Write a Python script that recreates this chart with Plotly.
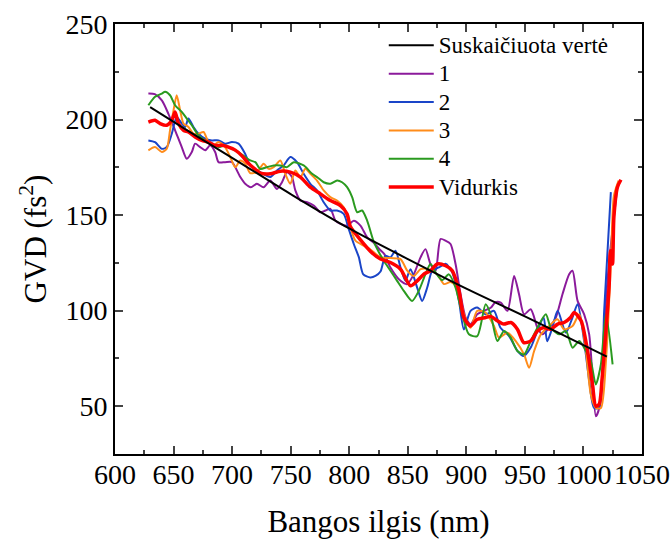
import plotly.graph_objects as go

# Calculated GVD (black line)
calc_x = [630, 660, 700, 750, 800, 850, 900, 950, 1000, 1020]
calc_y = [206.5, 195, 180, 161, 143, 127, 111.5, 97, 82, 76]

s1_x = [628.5, 634, 640, 645.6, 651.3, 657, 661.3, 665.6, 668.4, 672.7, 677, 681.3, 685.5, 688.4, 694, 699.8, 707, 711.2, 716, 721.2, 726.9, 732.6, 738.3, 742.6, 746.9, 751.1, 754, 758.3, 764, 769.7, 775.4, 779.7, 783.9, 788.2, 792.5, 798.2, 803.9, 809.6, 815.3, 821, 826, 830, 835.2, 843.8, 849.5, 855.2, 860.9, 865.1, 869.4, 873.7, 878, 882.3, 886.5, 890.8, 895.1, 899.4, 903.6, 909.3, 915, 920.8, 925, 929.4, 935.1, 940.8, 945, 949.3, 955, 960.7, 965, 970.7, 976.4, 982.1, 987.8, 990.7, 995, 1000.6, 1004.9, 1007.8, 1010.6, 1013.5, 1016.3, 1019.2, 1022, 1026, 1029]
s1_y = [213.6, 213.3, 210, 203, 194.4, 185.6, 179.5, 183, 187.4, 185.6, 183.9, 186.5, 183, 177.7, 177.7, 177.7, 169.9, 166.4, 164.6, 166.4, 164.6, 168.1, 163.7, 167.2, 172.5, 169.9, 162.9, 157.6, 156.7, 155, 151.5, 152.4, 153.3, 147.1, 145.4, 144.5, 147.1, 144.5, 138.4, 135.5, 132, 129.6, 122.6, 115.6, 113.9, 119.1, 127.9, 132.2, 124.4, 120.9, 137.5, 136.6, 134.9, 124.4, 108.6, 96.4, 92.9, 98.1, 99.9, 101.5, 104.5, 104.2, 99.9, 118.2, 108.6, 98.1, 100.7, 91.1, 87.6, 91.1, 96.4, 108.6, 119.1, 120.9, 105.1, 98.1, 87.6, 64.9, 44.7, 49.1, 68.4, 105.1, 126, 149, 165]

s2_x = [628.5, 634.2, 640, 644.2, 648.5, 652.7, 657, 659.9, 662.7, 667, 671.3, 677, 682.7, 688.4, 694, 699.8, 705.5, 711.2, 715.5, 724, 732.6, 738.3, 744, 749.7, 755.4, 761.1, 766.8, 772.5, 778.2, 783.9, 789.6, 795.3, 799.6, 803.9, 808.2, 812, 818, 822.4, 826.7, 830.9, 835.2, 839.5, 843.8, 848, 852.3, 858, 862.3, 866.6, 870.9, 876.6, 882.3, 888, 893.7, 897.9, 903.6, 909.3, 916.5, 923.6, 929, 936.4, 943.6, 949, 955, 960.7, 966, 969, 973.5, 978, 985, 990.6, 995, 1000.6, 1005, 1009, 1013.4, 1017.7, 1023.4]
s2_y = [189.1, 188.2, 184.7, 185.6, 192.6, 201.4, 197.9, 196.1, 200.5, 196.1, 192.6, 190, 189.1, 189.1, 187.4, 188.2, 187.4, 182, 176, 172.5, 169.9, 173.4, 176, 180.4, 177.7, 171.6, 166.4, 162.9, 156.7, 152.4, 152.4, 150.6, 142.7, 134.9, 128, 119, 117.4, 118.2, 120.5, 128.7, 127.9, 131.4, 122.6, 115.6, 121.7, 112.1, 105.1, 112.1, 120.9, 122.6, 124.5, 120, 105.1, 90.2, 99.9, 101.6, 98.1, 99.9, 91.2, 86.8, 79, 76.3, 80.7, 89.4, 96.4, 84, 91.2, 99.9, 88.5, 96.4, 103.4, 84, 63, 49.2, 49.2, 99.9, 162]

s3_x = [628.5, 634.2, 640, 644.2, 647, 650, 652.7, 655.6, 658.5, 662.7, 667, 671.3, 675.6, 679.8, 684.1, 688.4, 694, 698.4, 702.7, 707, 711.2, 715.5, 721.2, 726.9, 731.2, 735.5, 741.2, 745.4, 749.7, 754, 758.3, 762.5, 766.8, 772.5, 778.2, 783.9, 789.6, 795.3, 801, 805.3, 812.4, 818.1, 826.7, 835.2, 843.8, 849.5, 855.2, 860.9, 868, 875.2, 880.9, 886.5, 892.3, 898, 903.6, 909.3, 916.5, 923.6, 927.9, 935.1, 942.2, 949.3, 953.6, 957.9, 963.6, 970.7, 977.8, 983.5, 990.7, 996.4, 1002.1, 1006.3, 1010.6, 1014.9, 1019.2, 1023.5, 1026, 1030]
s3_y = [183.9, 185.6, 183, 184.7, 194.4, 204.9, 212.7, 204.9, 197.9, 196.1, 192.6, 192.6, 193.5, 188.2, 186.5, 188.2, 185.6, 180.4, 175, 178.6, 176.9, 172, 172.5, 176.9, 174.2, 175.1, 178.6, 171.6, 166.4, 173.4, 169.9, 174.2, 171.6, 168.1, 162.9, 159.4, 157.6, 154.1, 143.6, 136.6, 134, 132, 128, 127.5, 127, 121, 118.2, 121.7, 121.7, 119, 113.9, 115, 112.1, 98.1, 91, 99.9, 99, 92, 85.9, 88.5, 84.1, 77.1, 70.1, 78.9, 87.6, 92, 95.5, 90.2, 92, 98.1, 78.9, 56.1, 49.1, 49.1, 73.6, 126, 160, 168]

s4_x = [628.5, 634.2, 640, 642.8, 647, 651.3, 657, 661.3, 665.6, 671.3, 677, 682.7, 688.4, 694, 699.8, 705.5, 711.2, 715.5, 719.8, 724, 729.8, 735.5, 741.2, 746.9, 752.6, 761.1, 768.3, 772.5, 778.2, 783.9, 789.6, 793.9, 798.2, 802.5, 806.8, 811, 815.3, 821, 825, 829.5, 835.2, 840.9, 846.6, 853.7, 859.4, 865.1, 869.4, 873.7, 879.4, 885.1, 890.8, 896.5, 902.2, 909.3, 916.5, 920.8, 926.5, 932.2, 937.9, 943.6, 949.3, 955, 960.7, 967.9, 972.1, 979.3, 985, 990.7, 996.4, 1002.1, 1006.3, 1010.6, 1014.9, 1019.2, 1024.9]
s4_y = [207.5, 211.9, 213.6, 214.5, 212.7, 207.5, 204, 200.5, 197, 191.7, 189.1, 187.4, 185.6, 186.5, 184.7, 183, 180.4, 178.6, 177.7, 174.2, 175.1, 176, 176, 175.1, 177.7, 176, 171.6, 169.9, 167.2, 166.4, 168.1, 167.2, 164.6, 159.4, 151.5, 152.4, 147.1, 136, 131, 126.1, 120.9, 115.6, 110.4, 105.1, 110.4, 119.1, 124.4, 120, 116, 119, 112.1, 98.1, 87.6, 86.7, 103.4, 98.1, 84.1, 89.4, 85.9, 78.9, 77.1, 84.1, 91.1, 98.1, 91.1, 87.6, 89.4, 80.6, 84.1, 78.9, 73.6, 61.4, 71.9, 98.1, 71.9]

avg_x = [628.5, 634.2, 638.5, 644.2, 648.5, 651.3, 654.2, 658.5, 662.7, 668.4, 674.1, 679.8, 685.5, 691.2, 696.9, 702.7, 708.4, 714, 719.8, 724, 732.6, 741.2, 749.7, 758.3, 766.8, 775.4, 783.9, 792.5, 798.2, 801, 809.6, 818.2, 826.7, 835.2, 843.8, 852.3, 858, 863.7, 869.4, 875.2, 882.3, 888, 893.7, 897.9, 903.6, 909.3, 916.5, 921, 926.5, 932, 938, 943.6, 949, 955, 960.7, 966, 972, 978, 983.5, 989, 992, 998, 1003.5, 1007.7, 1010.6, 1013.4, 1016, 1019, 1022, 1023, 1024.8, 1026, 1029, 1032]
avg_y = [198.7, 199.6, 197.9, 197, 199.6, 204, 197.9, 194.4, 193.5, 190.9, 189.1, 188.2, 186.5, 186.5, 185.6, 184, 181, 177, 174, 172, 171.6, 173, 172.5, 169.9, 164.6, 161.1, 157.6, 155, 150.6, 144, 137, 131, 127, 125.2, 121.7, 113, 115.6, 119.1, 120.9, 124.4, 123.5, 120.9, 110.4, 96.4, 92, 95.5, 96.4, 97, 94.7, 93, 93.8, 90.3, 83.3, 84.2, 89.4, 91.2, 90.3, 93, 93.8, 96.4, 99, 94.7, 79, 61.4, 50, 51, 65, 87.7, 114, 131.4, 124.4, 149, 164.6, 168.5]

names = ["Suskaičiuota vertė", "1", "2", "3", "4", "Vidurkis"]
colors = ["#000000", "#8b1a9b", "#1a45c8", "#ff8c1a", "#2a9a1f", "#ff0000"]


def lg(name):
    return '<span style="font-size:23px">' + name + '</span>'


fig = go.Figure()
series = [(s1_x, s1_y), (s2_x, s2_y), (s3_x, s3_y), (s4_x, s4_y)]
for i, (xs, ys) in enumerate(series):
    fig.add_trace(go.Scatter(x=xs, y=ys, mode="lines", name=lg(names[i + 1]),
                             line=dict(color=colors[i + 1], width=2, shape="spline", smoothing=0.7),
                             legendrank=i + 2))
fig.add_trace(go.Scatter(x=avg_x, y=avg_y, mode="lines", name=lg(names[5]),
                         line=dict(color=colors[5], width=3.5, shape="spline", smoothing=0.7),
                         legendrank=6))
fig.add_trace(go.Scatter(x=calc_x, y=calc_y, mode="lines", name=lg(names[0]),
                         line=dict(color=colors[0], width=2, shape="spline"),
                         legendrank=1))

font_family = "Liberation Serif, Times New Roman, DejaVu Serif, serif"
fig.update_layout(
    width=670, height=543,
    margin=dict(l=115, r=28, t=24, b=89),
    paper_bgcolor="white", plot_bgcolor="white",
    font=dict(family=font_family, color="black", size=28),
    showlegend=True,
    legend=dict(x=0.51, y=0.995, xanchor="left", yanchor="top",
                font=dict(size=19.5, family=font_family), bgcolor="rgba(0,0,0,0)",
                itemwidth=45, tracegroupgap=0),
    xaxis=dict(range=[600, 1050], dtick=50, tick0=600, ticks="inside", ticklen=8, tickwidth=1.5,
               showline=True, linewidth=2, linecolor="black", mirror="ticks",
               showgrid=False, zeroline=False, tickangle=0, automargin=False,
               ticklabelstandoff=-6,
               minor=dict(dtick=25, ticks="inside", ticklen=4, tickwidth=1.5),
               tickfont=dict(size=28, family=font_family),
               title=dict(text="Bangos ilgis (nm)", font=dict(size=31, family=font_family), standoff=22)),
    yaxis=dict(range=[25, 250], dtick=50, tick0=0, ticks="inside", ticklen=8, tickwidth=1.5,
               showline=True, linewidth=2, linecolor="black", mirror="ticks",
               showgrid=False, zeroline=False, automargin=False,
               minor=dict(dtick=25, ticks="inside", ticklen=4, tickwidth=1.5),
               tickfont=dict(size=28, family=font_family),
               title=dict(text="GVD (fs<sup>2</sup>)", font=dict(size=31, family=font_family), standoff=10)),
)

fig.write_html("out.html")
